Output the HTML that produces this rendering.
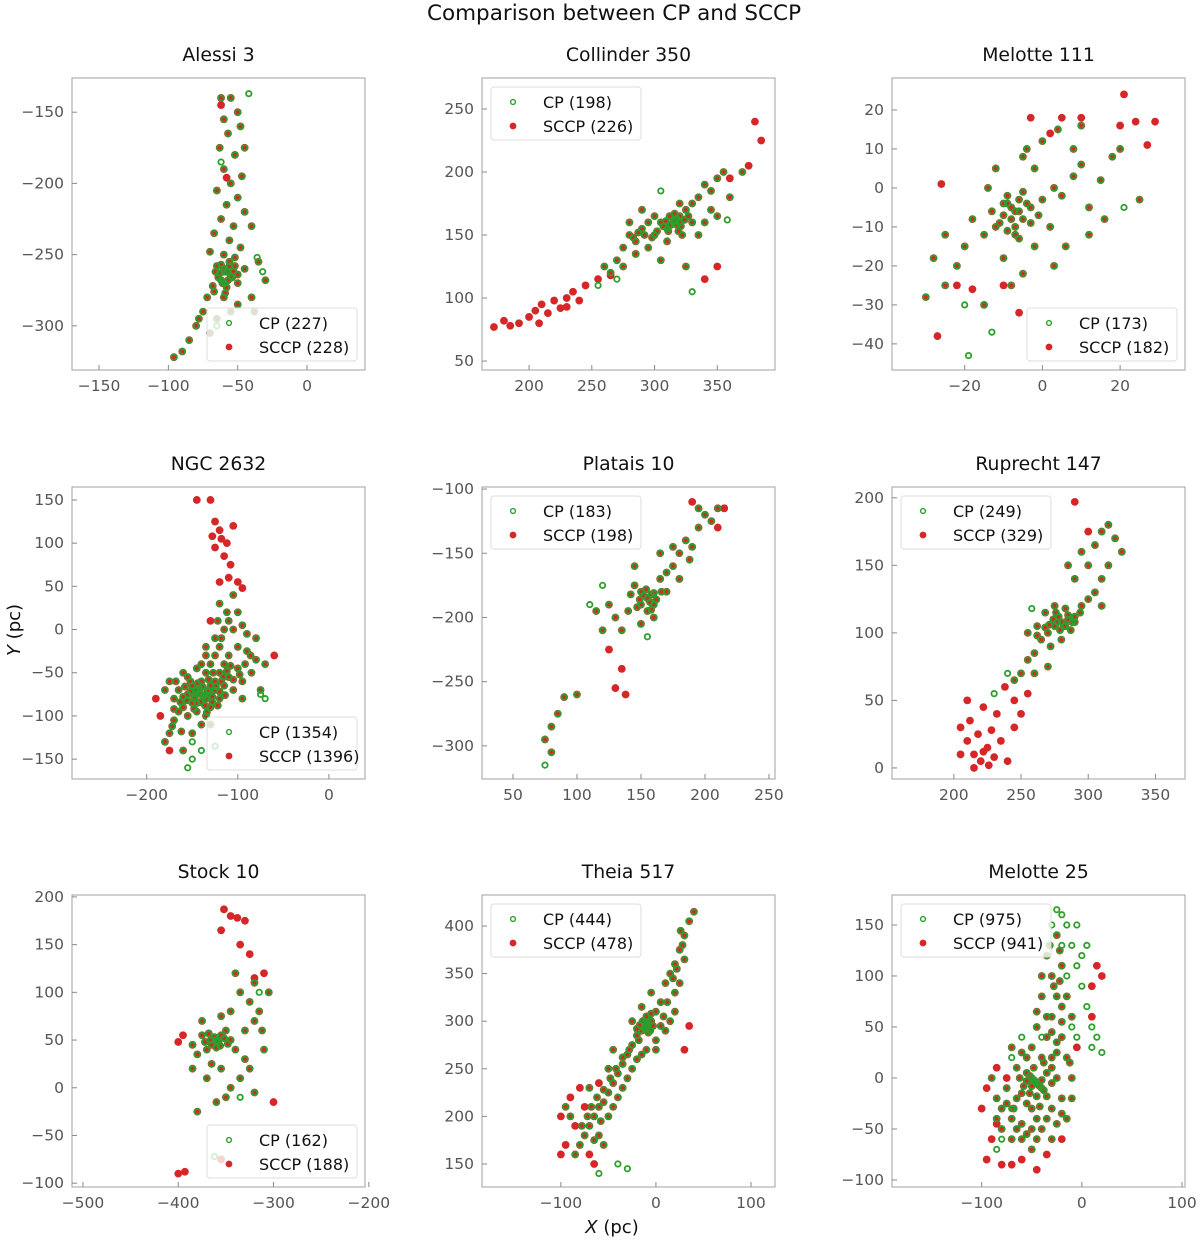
<!DOCTYPE html>
<html><head><meta charset="utf-8"><style>
body{margin:0;background:#fff;}
svg{display:block;font-family:"DejaVu Sans","Liberation Sans",sans-serif;}
</style></head><body>
<svg id="chart" width="1200" height="1240" xmlns="http://www.w3.org/2000/svg">
<text x="614" y="20" text-anchor="middle" font-size="21.5" fill="#111">Comparison between CP and SCCP</text>
<text x="612" y="1233" text-anchor="middle" font-size="18" fill="#111" font-style="italic">X <tspan font-style="normal">(pc)</tspan></text>
<text transform="translate(20,630) rotate(-90)" text-anchor="middle" font-size="18" fill="#111" font-style="italic">Y <tspan font-style="normal">(pc)</tspan></text>
</svg>
<script>
const titles=["Alessi 3","Collinder 350","Melotte 111","NGC 2632","Platais 10","Ruprecht 147","Stock 10","Theia 517","Melotte 25"];
const cpCounts=[227,198,173,1354,183,249,162,444,975];
const sccpCounts=[228,226,182,1396,198,329,188,478,941];
const xTicks=[[-150,-100,-50,0],[200,250,300,350],[-20,0,20],[-200,-100,0],[50,100,150,200,250],[200,250,300,350],[-500,-400,-300,-200],[-100,0,100],[-100,0,100]];
const yTicks=[[-150,-200,-250,-300],[250,200,150,100,50],[20,10,0,-10,-20,-30,-40],[150,100,50,0,-50,-100,-150],[-100,-150,-200,-250,-300],[200,150,100,50,0],[200,150,100,50,0,-50,-100],[400,350,300,250,200,150],[150,100,50,0,-50,-100]];
const xRanges=[[-169.5,41.8],[162.5,396],[-38.7,36.7],[-282,39.6],[25.8,254.7],[154,372],[-511.5,-204],[-183,125.3],[-189.5,103]];
const yRanges=[[-331,-126],[42.9,274.6],[-46.7,28.2],[-173,165],[-325.8,-98.4],[-8.2,208],[-104,202],[125.8,432.6],[-106.9,179.4]];
const legendPos=["br","tl","br","br","tl","tl","br","tl","tl"];

const both1=[[-62,-140],[-55,-140],[-50,-150],[-60,-155],[-48,-160],[-57,-165],[-45,-175],[-63,-175],[-52,-180],[-60,-190],[-47,-195],[-55,-200],[-65,-205],[-50,-210],[-58,-215],[-45,-220],[-62,-225],[-53,-230],[-40,-230],[-67,-235],[-56,-240],[-48,-245],[-70,-248],[-60,-250],[-52,-252],[-65,-258],[-58,-262],[-55,-265],[-62,-268],[-50,-270],[-68,-272],[-45,-260],[-35,-255],[-30,-268],[-40,-280],[-72,-280],[-60,-280],[-55,-290],[-75,-290],[-80,-300],[-70,-305],[-85,-310],[-90,-318],[-96,-322],[-78,-295],[-50,-285],[-38,-290],[-65,-295],[-60,-260],[-56,-258],[-59,-270],[-53,-262],[-63,-263],[-60,-262],[-57,-268],[-54,-266],[-61,-270],[-64,-266],[-58,-273],[-52,-258],[-56,-255],[-62,-257],[-66,-262],[-50,-264],[-59,-277],[-67,-276]];
const sccp1=[[-62,-145],[-58,-196]];
const cp1=[[-42,-137],[-62,-185],[-32,-262],[-65,-300],[-36,-252]];

const both2=[[260,125],[270,130],[275,140],[280,150],[285,145],[290,155],[295,140],[300,150],[295,160],[305,130],[310,155],[315,160],[320,165],[318,158],[325,170],[330,175],[335,180],[340,190],[345,185],[350,195],[355,200],[345,170],[330,160],[310,145],[300,165],[285,135],[275,125],[265,120],[360,180],[350,165],[322,150],[312,165],[305,160],[320,175],[290,170],[340,160],[335,150],[280,160],[370,200],[325,125],[316,162],[312,158],[320,160],[313,158],[318,163],[321,157],[309,161],[316,167],[324,162],[311,153],[307,157],[319,153],[327,165],[302,153],[298,148],[292,150],[287,152],[283,148]];
const sccp2=[[172,77],[180,82],[185,78],[192,80],[200,85],[205,90],[210,95],[215,88],[220,98],[225,92],[230,100],[235,105],[240,98],[245,110],[255,115],[265,118],[340,115],[350,125],[380,240],[385,225],[375,205],[360,195],[208,80],[230,93]];
const cp2=[[305,185],[330,105],[358,162],[255,110],[270,115]];

const both3=[[-8,-5],[-10,-7],[-6,-3],[-12,-10],[-5,-8],[-9,-2],[-15,-12],[-3,-5],[-7,-12],[0,-3],[3,0],[5,-2],[8,3],[10,6],[12,-5],[15,2],[18,8],[-2,5],[-5,8],[-14,0],[-18,-8],[-20,-15],[-22,-20],[-25,-25],[-30,-28],[-10,-18],[-5,-22],[-2,-15],[2,-10],[6,-15],[3,-20],[-8,-25],[-15,-30],[-25,-12],[12,-12],[16,-8],[20,10],[25,-3],[0,12],[4,15],[8,10],[-12,5],[-4,10],[10,16],[-28,-18],[-7,-6],[-9,-4],[-8,-8],[-6,-6],[-10,-4],[-11,-9],[-4,-4],[-7,-10],[-9,-11],[-5,-1],[-13,-6],[-3,-9],[-1,-7],[-6,-13]];
const sccp3=[[21,24],[24,17],[27,11],[29,17],[20,16],[-26,1],[-27,-38],[-18,-26],[-22,-25],[-10,-25],[-3,18],[2,14],[5,18],[10,18],[-6,-32]];
const cp3=[[-19,-43],[-13,-37],[21,-5],[-20,-30]];

const both4=[[-140,-75],[-145,-70],[-135,-80],[-150,-85],[-130,-65],[-155,-75],[-125,-60],[-160,-90],[-120,-50],[-165,-95],[-115,-40],[-140,-60],[-150,-65],[-130,-90],[-145,-95],[-110,-30],[-100,-20],[-90,-25],[-80,-35],[-70,-40],[-85,-50],[-95,-60],[-105,-70],[-120,-80],[-170,-105],[-175,-120],[-180,-130],[-160,-140],[-150,-120],[-130,-110],[-120,-20],[-115,0],[-110,10],[-100,20],[-120,30],[-105,40],[-125,-10],[-135,-30],[-140,-40],[-160,-50],[-175,-60],[-180,-70],[-170,-80],[-90,-5],[-80,-10],[-75,-70],[-95,-80],[-155,-100],[-165,-70],[-135,-50],[-125,-70],[-145,-85],[-138,-78],[-142,-68],[-148,-80],[-132,-72],[-128,-84],[-152,-60],[-110,-55],[-115,-65],[-100,-45],[-142,-72],[-137,-76],[-133,-70],[-147,-78],[-152,-72],[-128,-78],[-136,-88],[-144,-62],[-156,-82],[-124,-66],[-132,-58],[-160,-78],[-148,-92],[-120,-72],[-118,-60],[-112,-48],[-108,-42],[-116,-55],[-127,-50],[-139,-66],[-141,-84],[-134,-96],[-158,-66],[-163,-84],[-170,-92],[-122,-88],[-114,-76],[-105,-58],[-98,-52],[-92,-40],[-86,-30],[-130,-40],[-125,-30],[-118,-10],[-112,20],[-122,10],[-105,0],[-95,5],[-135,-20],[-145,-45],[-155,-55],[-168,-60],[-172,-112],[-162,-118],[-140,-110],[-135,-100]];
const sccp4=[[-145,150],[-130,150],[-125,125],[-120,115],[-118,105],[-112,100],[-125,95],[-115,85],[-110,60],[-100,55],[-95,48],[-120,55],[-130,10],[-60,-30],[-190,-80],[-185,-100],[-175,-140],[-105,120],[-128,108],[-108,75]];
const cp4=[[-75,-75],[-70,-80],[-150,-130],[-140,-140],[-150,-150],[-155,-160],[-125,-135]];

const both5=[[155,-185],[150,-180],[160,-190],[145,-175],[165,-170],[140,-195],[170,-165],[175,-160],[180,-150],[185,-140],[190,-145],[195,-130],[200,-120],[205,-125],[195,-115],[180,-170],[170,-180],[160,-200],[150,-205],[130,-200],[125,-190],[120,-210],[135,-210],[145,-160],[175,-145],[188,-155],[165,-150],[115,-195],[100,-260],[90,-262],[85,-275],[80,-285],[75,-295],[80,-305],[210,-115],[155,-195],[150,-190],[158,-182],[152,-183],[157,-188],[160,-181],[149,-186],[154,-178],[162,-186],[147,-192],[158,-194],[142,-182],[166,-180]];
const sccp5=[[190,-110],[215,-115],[210,-130],[135,-240],[130,-255],[138,-260],[125,-225]];
const cp5=[[120,-175],[75,-315],[155,-215],[110,-190]];

const both6=[[280,108],[275,105],[285,110],[270,100],[290,112],[265,95],[260,85],[255,80],[250,70],[245,65],[295,120],[300,125],[305,130],[310,140],[300,150],[295,160],[305,165],[310,175],[315,180],[320,170],[290,140],[285,150],[275,120],[268,115],[262,105],[255,100],[310,120],[315,150],[325,160],[280,95],[272,90],[260,70],[270,75],[278,112],[283,105],[288,108],[277,108],[282,105],[285,113],[274,110],[279,102],[290,108],[271,106],[287,102],[276,115],[268,104],[283,118],[294,115],[262,98]];
const sccp6=[[205,30],[210,20],[215,10],[220,5],[225,15],[230,8],[205,10],[212,35],[218,25],[228,28],[235,20],[240,5],[222,45],[232,40],[210,50],[245,30],[250,40],[238,60],[226,2],[215,0],[290,197],[300,175],[245,50],[255,55],[222,12]];
const cp6=[[258,118],[240,70],[230,55]];

const both7=[[-360,50],[-355,55],[-365,45],[-350,60],[-370,40],[-345,50],[-375,55],[-340,40],[-330,30],[-325,20],[-335,10],[-345,0],[-355,20],[-365,25],[-380,35],[-385,20],[-370,10],[-330,60],[-320,70],[-315,80],[-325,90],[-335,100],[-320,110],[-340,120],[-345,80],[-355,75],[-375,70],[-385,45],[-310,40],[-350,-10],[-360,-15],[-380,-25],[-320,-5],[-305,100],[-312,60],[-358,48],[-362,53],[-356,44],[-366,50],[-352,52],[-360,42],[-368,57],[-348,46],[-372,48]];
const sccp7=[[-352,187],[-345,180],[-338,178],[-330,175],[-355,165],[-335,150],[-325,140],[-320,115],[-400,-90],[-393,-88],[-355,-75],[-300,-15],[-400,48],[-395,55],[-310,120]];
const cp7=[[-315,100],[-335,-10],[-362,-72]];

const both8=[[-10,295],[-15,290],[-5,300],[-20,285],[0,310],[-25,275],[5,320],[-30,265],[10,340],[15,350],[20,360],[25,375],[30,390],[35,405],[40,415],[-35,255],[-40,245],[-45,235],[-50,225],[-55,215],[-60,210],[-65,200],[-70,190],[-75,180],[-80,170],[-85,160],[-90,200],[-60,180],[-40,220],[-30,240],[-20,260],[-10,270],[0,280],[10,290],[15,300],[20,330],[-5,330],[-15,315],[-50,250],[-45,270],[25,340],[30,365],[-25,300],[5,295],[-12,298],[-8,288],[-95,210],[-70,230],[-55,170],[20,310],[-12,292],[-8,298],[-14,300],[-6,290],[-17,296],[-3,295],[-10,305],[-20,292],[-5,308],[-18,280],[-28,270],[-35,262],[-42,250],[-48,240],[-55,228],[-62,220],[-68,210],[-72,200],[-78,190],[-45,210],[-35,230],[-25,250],[-15,265],[0,270],[8,305],[12,320],[18,345],[22,355],[28,380],[26,395],[-58,195],[-50,200],[-65,175]];
const sccp8=[[-100,160],[-95,170],[-85,190],[-75,210],[-90,220],[-80,230],[-65,150],[-70,160],[-100,200],[-60,235],[35,295],[30,270]];
const cp8=[[-40,150],[-60,140],[-30,145]];

const both9=[[-45,-5],[-50,0],[-40,-10],[-55,5],[-35,5],[-60,-15],[-30,-5],[-65,-20],[-50,-30],[-40,20],[-35,40],[-30,60],[-25,80],[-30,100],[-35,120],[-25,140],[-20,110],[-40,80],[-45,50],[-20,40],[-15,20],[-10,0],[-70,-40],[-80,-50],[-75,-10],[-85,-20],[-90,0],[-60,-60],[-50,-70],[-40,-50],[-30,-30],[-20,-20],[-15,-40],[-65,10],[-70,30],[-55,20],[-25,0],[-48,-2],[-42,-8],[-52,2],[-20,70],[-10,60],[-30,20],[-60,-45],[-45,-40],[-47,-3],[-43,-7],[-50,-8],[-40,-2],[-55,-3],[-38,-12],[-52,-15],[-45,-18],[-35,-18],[-58,-8],[-62,0],[-30,10],[-38,15],[-48,10],[-55,-25],[-42,-28],[-68,-30],[-75,-25],[-65,-50],[-55,-55],[-35,-40],[-25,-45],[-25,25],[-20,55],[-30,45],[-25,35],[-35,60],[-28,90],[-22,95],[-32,130],[-22,125],[-15,80],[-40,100],[-45,65],[-50,30],[-60,25],[-80,-30],[-70,-60],[-50,-50],[-85,-40],[-20,-35],[-10,-20],[-12,15],[-45,-60],[-30,-60]];
const sccp9=[[-95,-80],[-90,-60],[-85,-45],[-100,-30],[-95,-10],[-80,-85],[-70,-85],[-60,-80],[-45,-90],[-35,-75],[-20,-60],[10,60],[15,110],[20,100],[10,90],[-5,30],[-75,0],[-85,10]];
const cp9=[[-25,165],[-20,160],[-15,150],[-10,130],[-5,110],[0,90],[5,70],[-10,50],[-5,40],[10,30],[15,40],[20,25],[-60,40],[-70,20],[-85,-70],[-30,150],[0,120],[5,130],[-50,30],[-40,40],[-70,-30],[-80,-60],[-15,100],[-5,150],[-20,130],[10,50]];

const bothSets=[both1,both2,both3,both4,both5,both6,both7,both8,both9];
const sccpSets=[sccp1,sccp2,sccp3,sccp4,sccp5,sccp6,sccp7,sccp8,sccp9];
const cpSets=[cp1,cp2,cp3,cp4,cp5,cp6,cp7,cp8,cp9];

const NS="http://www.w3.org/2000/svg";
const svg=document.getElementById('chart');
const colL=[72,482,892], rowT=[78,487,895], W=293, H=292;
const RED="#d62728", GREEN="#2ca02c";
function mk(tag,attrs,parent){const e=document.createElementNS(NS,tag);for(const k in attrs)e.setAttribute(k,attrs[k]);parent.appendChild(e);return e;}

for(let i=0;i<9;i++){
  const L=colL[i%3], T=rowT[Math.floor(i/3)];
  const xr=xRanges[i], yr=yRanges[i];
  const sx=v=>L+(v-xr[0])/(xr[1]-xr[0])*W;
  const sy=v=>T+H-(v-yr[0])/(yr[1]-yr[0])*H;
  const g=mk('g',{},svg);
  
  
  const cp=mk('clipPath',{id:'c'+i},g);
  mk('rect',{x:L,y:T,width:W,height:H},cp);
  const tt=mk('text',{x:L+W/2,y:T-17,'text-anchor':'middle','font-size':'18.8',fill:'#111'},g);
  tt.textContent=titles[i];
  
  
  const pts=mk('g',{'clip-path':'url(#c'+i+')'},g);
  
  
  sccpSets[i].forEach(p=>{
    const c=mk('circle',{cx:sx(p[0]),cy:sy(p[1]),r:3.9,fill:RED},pts);
    
    
  });
  bothSets[i].forEach(p=>{
    const c=mk('circle',{cx:sx(p[0]),cy:sy(p[1]),r:3.9,fill:RED},pts);
    
    
  });
  bothSets[i].concat(cpSets[i]).forEach(p=>{
    const c=mk('circle',{cx:sx(p[0]),cy:sy(p[1]),r:2.7,fill:'none',stroke:GREEN,'stroke-width':1.8},pts);
    
    
  });
  const fr=mk('rect',{x:L,y:T,width:W,height:H,fill:'none',stroke:'#b0b0b0','stroke-width':1.2},g);
  
  
  xTicks[i].forEach(v=>{
    const x=sx(v);
    mk('line',{x1:x,x2:x,y1:T+H,y2:T+H-5,stroke:'#888'},g);
    const t=mk('text',{x:x,y:T+H+21,'text-anchor':'middle','font-size':'15.5',fill:'#555'},g);
    t.textContent=String(v).replace('-','\u2212');
    
    
  });
  yTicks[i].forEach(v=>{
    const y=sy(v);
    mk('line',{x1:L,x2:L+5,y1:y,y2:y,stroke:'#888'},g);
    const t=mk('text',{x:L-8,y:y+5,'text-anchor':'end','font-size':'15.5',fill:'#555'},g);
    t.textContent=String(v).replace('-','\u2212');
    
    
  });
  const lw=150,lh=53;
  const lx=legendPos[i]==='br'?L+W-8-lw:L+9;
  const ly=legendPos[i]==='br'?T+H-9-lh:T+9;
  const lg=mk('g',{},g);
  
  
  mk('rect',{x:lx,y:ly,width:lw,height:lh,rx:3,fill:'rgba(255,255,255,0.8)',stroke:'#ddd'},lg);
  mk('circle',{cx:lx+22,cy:ly+15,r:2.4,fill:'none',stroke:GREEN,'stroke-width':1.4},lg);
  mk('circle',{cx:lx+22,cy:ly+39,r:3.4,fill:RED},lg);
  const t1=mk('text',{x:lx+52,y:ly+21,'font-size':'16',fill:'#111'},lg);
  t1.textContent='CP ('+cpCounts[i]+')';
  
  
  const t2=mk('text',{x:lx+52,y:ly+45,'font-size':'16',fill:'#111'},lg);
  t2.textContent='SCCP ('+sccpCounts[i]+')';
  
  
}
</script>
</body></html>
